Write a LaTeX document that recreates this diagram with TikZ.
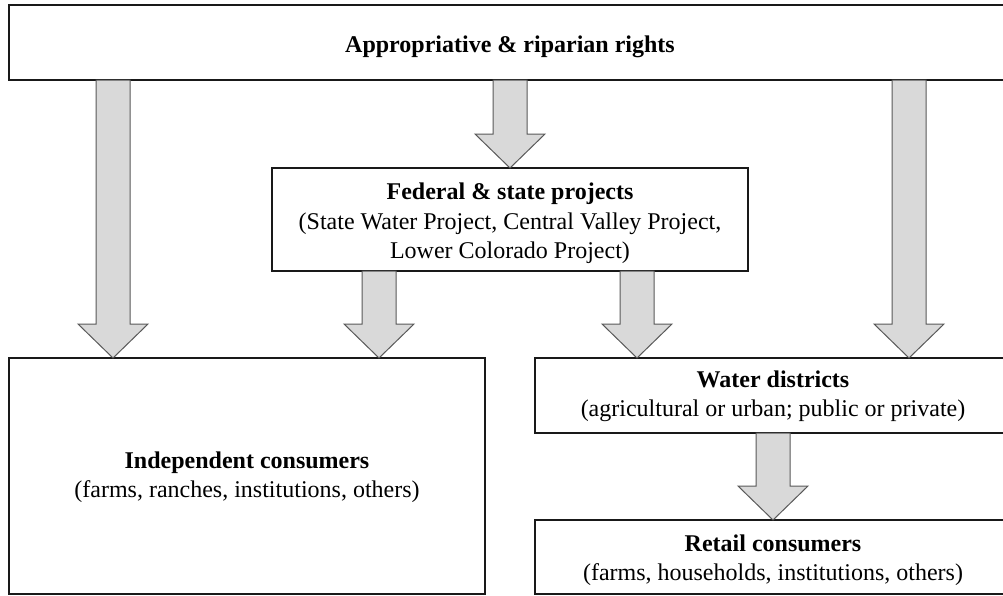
\documentclass[tikz,border=0pt]{standalone}
\usepackage{fontspec}
\setmainfont{Liberation Serif}
\usetikzlibrary{calc}
\tikzset{
  box/.style={draw=black!90, line width=1.5pt, fill=white, rectangle, inner sep=0pt, outer sep=0pt},
  boxtext/.style={inner sep=0pt, align=center, font=\fontsize{24}{29.5}\selectfont},
  blockarrow/.style={draw=black!65, line width=1pt, fill=black!15, line join=miter},
}
\newcommand\blockarr[3]{%
  \draw[blockarrow] let \p1=(#2.south), \p2=(#3.north) in
    (#1pt-17pt,\y1) -- (#1pt-17pt,\y2+34pt) -- (#1pt-35pt,\y2+34pt) -- (#1pt,\y2)
    -- (#1pt+35pt,\y2+34pt) -- (#1pt+17pt,\y2+34pt) -- (#1pt+17pt,\y1) -- cycle;}
\begin{document}
\begin{tikzpicture}[x=1pt,y=-1pt]
\clip (0,0) rectangle (1003,595);
\useasboundingbox (0,0) rectangle (1003,595);
\node[box, minimum width=1002pt, minimum height=75pt] (top) at (510,42.5) {};
\node[box, minimum width=476pt, minimum height=103pt] (fed) at (510,219.5) {};
\node[box, minimum width=476pt, minimum height=236pt] (ind) at (247,476) {};
\node[box, minimum width=476pt, minimum height=75pt] (wat) at (773,395.5) {};
\node[box, minimum width=476pt, minimum height=74pt] (ret) at (773,557) {};
\node[boxtext] (topt) at ([yshift=-4pt]top.center)
  {\textbf{Appropriative \& riparian rights}};
\node[boxtext] (fedt) at ([yshift=-4pt]fed.center)
  {\textbf{Federal \& state projects}\\(State Water Project, Central Valley Project,\\Lower Colorado Project)};
\node[boxtext] (indt) at ([yshift=-1pt]ind.center)
  {\textbf{Independent consumers}\\(farms, ranches, institutions, others)};
\node[boxtext] (watt) at ([yshift=-1pt]wat.center)
  {\textbf{Water districts}\\(agricultural or urban; public or private)};
\node[boxtext] (rett) at ([yshift=-3pt]ret.center)
  {\textbf{Retail consumers}\\(farms, households, institutions, others)};
\blockarr{113}{top}{ind}
\blockarr{510}{top}{fed}
\blockarr{909}{top}{wat}
\blockarr{379}{fed}{ind}
\blockarr{637}{fed}{wat}
\blockarr{773}{wat}{ret}
\end{tikzpicture}
\end{document}
